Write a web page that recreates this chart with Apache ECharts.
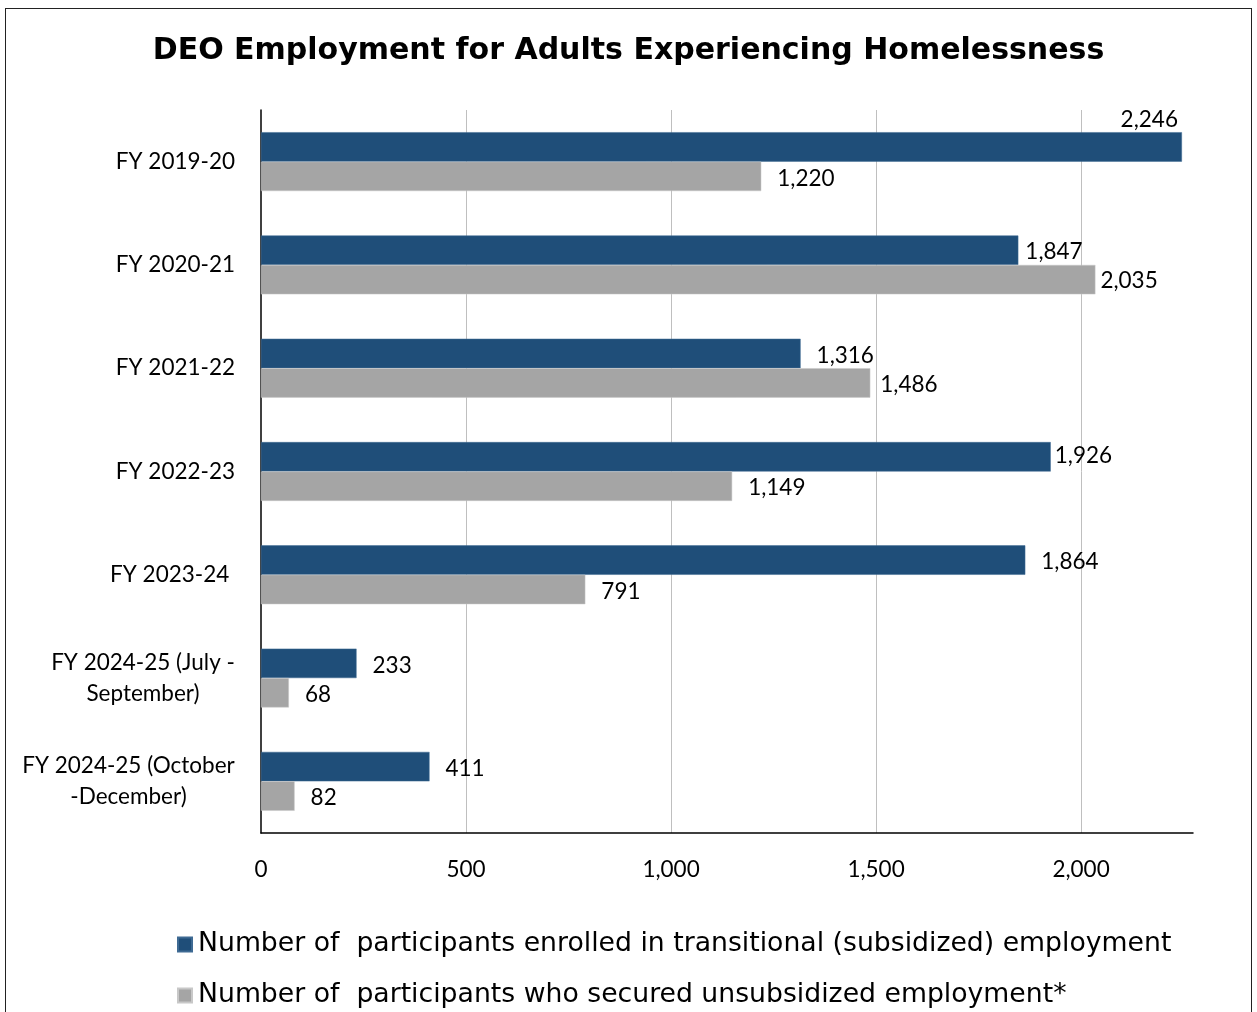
<!DOCTYPE html>
<html>
<head>
<meta charset="utf-8">
<title>DEO Employment for Adults Experiencing Homelessness</title>
<script src="https://cdn.jsdelivr.net/npm/echarts@6/dist/echarts.min.js"></script>
<style>
  html, body { margin: 0; padding: 0; background: #fff; overflow: hidden; }
  #frame {
    position: absolute; left: 5px; top: 8px; width: 1247px; height: 1100px;
    border: 1px solid #222; box-sizing: border-box;
  }
  #chart { position: absolute; left: 0; top: 0; width: 1257px; height: 1012px; }
</style>
</head>
<body>
<div id="frame"></div>
<div id="chart"></div>
<script>
// Fiscal-year periods, top to bottom
const categories = [
  'FY 2019-20',
  'FY 2020-21',
  'FY 2021-22',
  'FY 2022-23',
  'FY 2023-24 ',
  'FY 2024-25 (July -\nSeptember)',
  'FY 2024-25 (October\n-December)'
];

const seriesNames = [
  'Number of  participants enrolled in transitional (subsidized) employment',
  'Number of  participants who secured unsubsidized employment*'
];

const enrolled = [2246, 1847, 1316, 1926, 1864, 233, 411];
const secured  = [1220, 2035, 1486, 1149, 791, 68, 82];

const xTicks = [0, 500, 1000, 1500, 2000];

// Label nudges where value labels would crowd a neighbouring bar or the frame
const enrolledLabelNudge = { 1: [-9, 2], 3: [-12, -1] };
const securedLabelNudge  = { 1: [-11, 1], 2: [-6, 2] };

const LABEL_FONT = 'Lato, "Open Sans", sans-serif';
const LABEL_SIZE = 22.5;
const fmt = v => Number(v).toLocaleString('en-US');

// Multi-line category labels keep their lines centred on each other
const measureCtx = document.createElement('canvas').getContext('2d');
measureCtx.font = LABEL_SIZE + 'px ' + LABEL_FONT;
const rich = {};
const catKey = {};
categories.forEach((c, i) => {
  if (c.indexOf('\n') >= 0) {
    const w = Math.max(...c.split('\n').map(s => measureCtx.measureText(s).width));
    const k = 'c' + i;
    rich[k] = { width: Math.ceil(w), align: 'center', fontSize: LABEL_SIZE, fontFamily: LABEL_FONT,
                color: '#000', lineHeight: 31 };
    catKey[c] = k;
  }
});

function buildData(values, nudges, series) {
  return values.map((v, i) => {
    const item = { value: v };
    if (series === 0 && i === 0) {
      item.label = { position: ['100%', 0], align: 'right', verticalAlign: 'bottom', offset: [-4, -1] };
    } else if (nudges[i]) {
      item.label = { offset: nudges[i] };
    }
    return item;
  });
}

const labelCommon = {
  show: true,
  position: 'right',
  distance: 16,
  fontSize: LABEL_SIZE,
  fontFamily: LABEL_FONT,
  color: '#000',
  offset: [0, 2],
  formatter: p => fmt(p.value)
};

const chart = echarts.init(document.getElementById('chart'), null, { renderer: 'canvas' });
chart.setOption({
  animation: false,
  backgroundColor: 'transparent',
  title: {
    text: 'DEO Employment for Adults Experiencing Homelessness',
    left: 'center',
    top: 31,
    textStyle: { fontFamily: '"DejaVu Sans", Verdana, sans-serif', fontWeight: 'bold', fontSize: 30, color: '#000' }
  },
  legend: {
    orient: 'vertical',
    left: 177,
    top: 931,
    padding: 0,
    itemWidth: 14,
    itemHeight: 14,
    itemGap: 24,
    icon: 'rect',
    textStyle: { fontFamily: '"DejaVu Sans", Verdana, sans-serif', fontSize: 26.7, color: '#000', padding: [0, 0, 0, 1] },
    data: seriesNames
  },
  grid: { left: 261, right: 64, top: 110, bottom: 179, containLabel: false },
  xAxis: {
    type: 'value',
    min: 0,
    max: 2273,
    interval: 500,
    axisLine: { show: true, lineStyle: { color: '#000', width: 1.5 } },
    axisTick: { show: false },
    axisLabel: {
      margin: 25,
      fontSize: LABEL_SIZE,
      fontFamily: LABEL_FONT,
      color: '#000',
      showMaxLabel: false,
      formatter: v => (xTicks.indexOf(v) >= 0 ? fmt(v) : '')
    },
    splitLine: { show: true, showMinLine: false, showMaxLine: false, lineStyle: { color: '#BFBFBF', width: 1 } }
  },
  yAxis: {
    type: 'category',
    inverse: true,
    data: categories,
    axisLine: { show: true, lineStyle: { color: '#000', width: 1.5 } },
    axisTick: { show: false },
    axisLabel: {
      margin: 26,
      fontSize: LABEL_SIZE,
      fontFamily: LABEL_FONT,
      color: '#000',
      lineHeight: 31,
      rich: rich,
      formatter: v => catKey[v] ? v.split('\n').map(s => '{' + catKey[v] + '|' + s + '}').join('\n') : v
    }
  },
  series: [
    {
      name: seriesNames[0],
      type: 'bar',
      barGap: '0%',
      barCategoryGap: '43%',
      itemStyle: { color: '#1F4E79', borderColor: '#3E6A93', borderWidth: 0.5 },
      label: labelCommon,
      data: buildData(enrolled, enrolledLabelNudge, 0)
    },
    {
      name: seriesNames[1],
      type: 'bar',
      barGap: '0%',
      barCategoryGap: '43%',
      itemStyle: { color: '#A5A5A5', borderColor: '#C8C8C8', borderWidth: 0.5 },
      label: labelCommon,
      data: buildData(secured, securedLabelNudge, 1)
    }
  ]
});
</script>
</body>
</html>
